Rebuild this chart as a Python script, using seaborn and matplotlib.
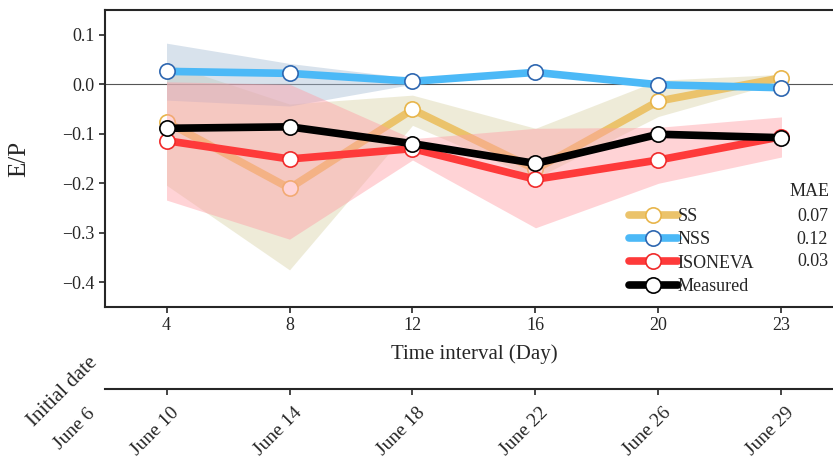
import numpy as np
import pandas as pd
import matplotlib
matplotlib.use("Agg")
import matplotlib.pyplot as plt
import matplotlib.transforms as mtransforms
import seaborn as sns

# time intervals (days) and the matching end dates
intervals = ["4", "8", "12", "16", "20", "23"]
end_dates = ["June 10", "June 14", "June 18", "June 22", "June 26", "June 29"]

ss = [-0.076, -0.210, -0.051, -0.172, -0.034, 0.013]
ss_lo = [-0.204, -0.375, -0.083, -0.190, -0.065, 0.005]
ss_hi = [0.042, -0.040, -0.022, -0.089, 0.008, 0.020]

nss = [0.026, 0.022, 0.006, 0.024, -0.001, -0.007]
nss_lo = [-0.032, -0.044, 0.000, 0.020, -0.005, -0.011]
nss_hi = [0.083, 0.042, 0.012, 0.028, 0.003, -0.003]

iso = [-0.114, -0.151, -0.130, -0.192, -0.153, -0.106]
iso_lo = [-0.234, -0.313, -0.153, -0.290, -0.200, -0.147]
iso_hi = [0.005, 0.000, -0.110, -0.089, -0.087, -0.066]

measured = [-0.089, -0.086, -0.120, -0.160, -0.101, -0.108]

mae = ["0.07", "0.12", "0.03"]

pos = np.arange(len(intervals))
df = pd.DataFrame({"pos": pos, "SS": ss, "NSS": nss, "ISONEVA": iso, "Measured": measured})

sns.set_style("ticks")
plt.rcParams["font.family"] = ["Liberation Serif", "DejaVu Serif"]
plt.rcParams["axes.linewidth"] = 1.5

fig = plt.figure(figsize=(8.33, 4.61), dpi=100)
ax = fig.add_axes([105 / 833, 1 - 307 / 461, 738 / 833, 297 / 461])

ax.axhline(0, color="#555555", lw=0.8, zorder=1)

series = [
    ("SS", "#ebc36b", "#e8b54a", ss_lo, ss_hi, "#cfc891", 0.35),
    ("NSS", "#4cb9f7", "#2d66b0", nss_lo, nss_hi, "#a9bfd6", 0.45),
    ("ISONEVA", "#fe3a3a", "#f02a2a", iso_lo, iso_hi, "#ff9ea6", 0.45),
    ("Measured", "black", "black", None, None, None, 0),
]

z = 2
for name, lc, ec, lo, hi, bc, ba in series:
    if lo is not None:
        ax.fill_between(pos, lo, hi, color=bc, alpha=ba, lw=0, zorder=z)
    sns.lineplot(data=df, x="pos", y=name, ax=ax, color=lc, lw=5.5,
                 marker="o", markersize=11, markerfacecolor="white",
                 markeredgecolor=ec, markeredgewidth=1.2, label=name,
                 zorder=z + 1)
    z += 2

ax.set_xlim(-0.5, 5.5)
ax.set_ylim(-0.45, 0.15)
ax.set_yticks([-0.4, -0.3, -0.2, -0.1, 0.0, 0.1])
ax.set_xticks(pos, intervals)
ax.tick_params(labelsize=13, length=4, width=1.2, direction="out")
ax.set_xlabel("Time interval (Day)", fontsize=15, labelpad=7)
ax.set_ylabel("E/P", fontsize=18, labelpad=23)
sns.despine(ax=ax, top=False, right=False)

leg = ax.legend(loc="upper left", bbox_to_anchor=(629 / 833, 1 - 208 / 461),
                bbox_transform=fig.transFigure, frameon=False, fontsize=13,
                handlelength=2.7, handletextpad=0.0, labelspacing=0.35,
                borderpad=0, borderaxespad=0)

fig.text(830 / 833, 1 - 191 / 461, "MAE", ha="right", va="center", fontsize=13)
for i, v in enumerate(mae):
    fig.text(828 / 833, 1 - (216 + 23 * i) / 461, v, ha="right", va="center", fontsize=13)

# second axis with the calendar dates
sec = ax.secondary_xaxis(-82 / 297)
sec.set_xticks(pos, end_dates)
sec.tick_params(length=4, width=1.2, labelsize=14, pad=7)
sec.spines["bottom"].set_linewidth(1.5)
shift = mtransforms.ScaledTranslation(16 / 100, 0, fig.dpi_scale_trans)
for lab in sec.get_xticklabels():
    lab.set_rotation(45)
    lab.set_ha("right")
    lab.set_transform(lab.get_transform() + shift)

fig.text(101 / 833, 1 - 353 / 461, "Initial date", rotation=45,
         ha="right", va="top", fontsize=15)
fig.text(98 / 833, 1 - 405 / 461, "June 6", rotation=45,
         ha="right", va="top", fontsize=14)

fig.savefig("out.png", dpi=100)
